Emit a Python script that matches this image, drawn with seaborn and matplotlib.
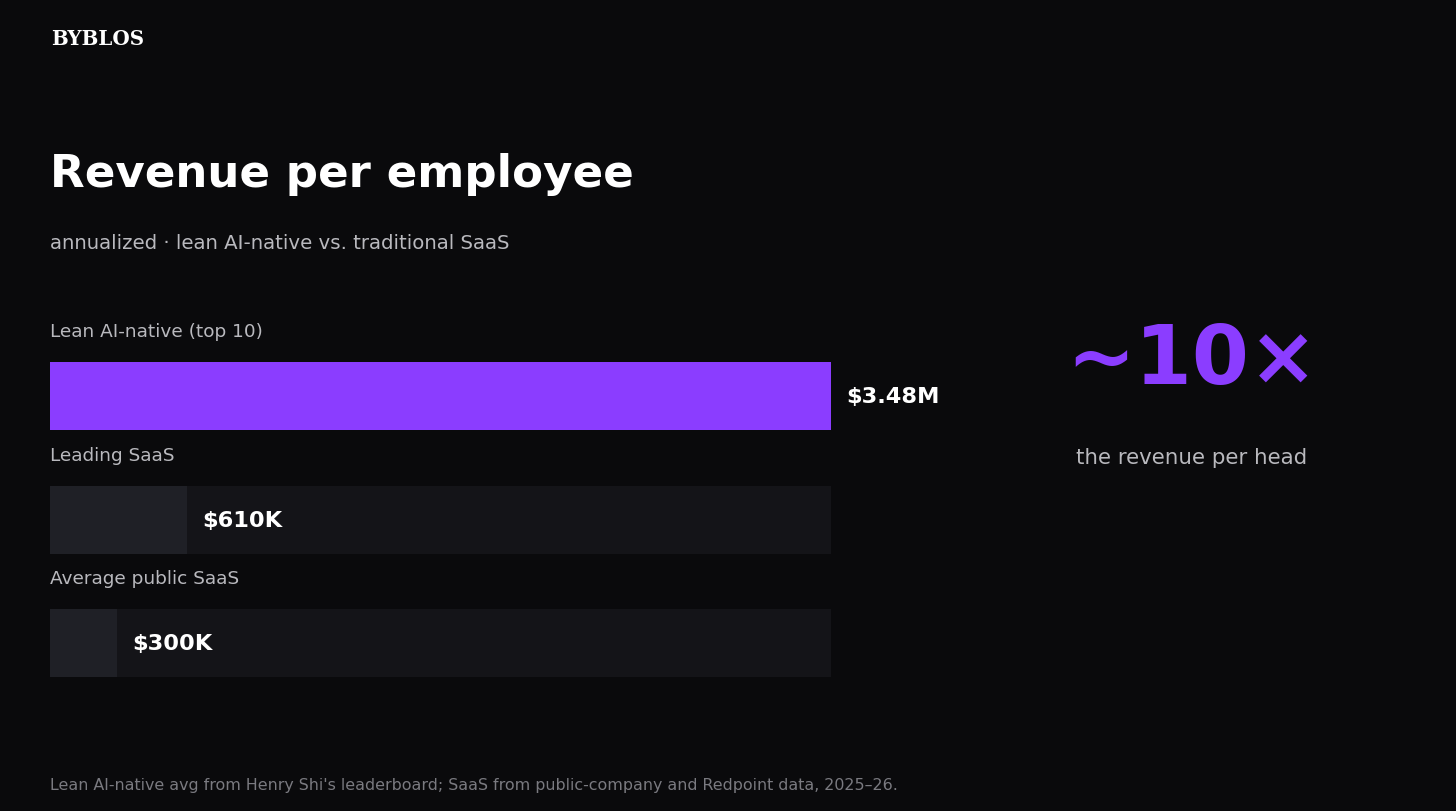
import pandas as pd
import matplotlib
matplotlib.use('Agg')
import matplotlib.pyplot as plt
import seaborn as sns

# data
categories = ['Lean AI-native (top 10)', 'Leading SaaS', 'Average public SaaS']
values_m = [3.48, 0.61, 0.30]
value_labels = ['$3.48M', '$610K', '$300K']
track_max = 3.48

BG = '#0a0a0c'
PURPLE = '#8b3dff'
TRACK = '#141418'
FILL = '#1f2026'
W, H = 1456, 812

sns.set_theme(style='dark')
plt.rcParams['font.family'] = ['DejaVu Sans']

fig = plt.figure(figsize=(W / 100, H / 100), dpi=100, facecolor=BG)

def px(x, y):
    return x / W, 1 - y / H

# axes area for the bars (pixel box)
left, right = 50, 831
top, bottom = 335.8, 705.7
ax = fig.add_axes([left / W, 1 - bottom / H, (right - left) / W, (bottom - top) / H])
ax.set_facecolor(BG)

df = pd.DataFrame({'category': categories, 'value': values_m,
                   'track': [track_max] * len(categories)})

# full-width tracks first, then the value bars over them
sns.barplot(data=df, y='category', x='track', color=TRACK, width=0.551,
            ax=ax, orient='h', saturation=1)
bar_colors = [PURPLE, FILL, FILL]
sns.barplot(data=df, y='category', x='value', hue='category', palette=bar_colors,
            width=0.551, ax=ax, orient='h', legend=False, saturation=1)
for p in ax.patches:
    p.set_linewidth(0)

ax.set_xlim(0, track_max)
ax.set_ylim(2.5, -0.5)
ax.axis('off')

for i, (cat, v, lab) in enumerate(zip(categories, values_m, value_labels)):
    ax.text(0, i - 0.527, cat, color='#b9b9be', fontsize=13.3,
            va='center', ha='left', clip_on=False)
    ax.text(v + 0.067, i, lab, color='white', fontsize=16.2, fontweight='bold',
            va='center', ha='left', clip_on=False)

# header
fig.text(*px(51, 39), 'BYBLOS', family=['DejaVu Serif'], fontweight='bold',
         fontsize=14.3, color='white', va='center', ha='left')
fig.text(*px(50, 174), 'Revenue per employee', fontsize=32.5, fontweight='bold',
         color='white', va='center', ha='left')
fig.text(*px(50, 244), 'annualized · lean AI-native vs. traditional SaaS',
         fontsize=14.2, color='#b9b9be', va='center', ha='left')

# callout
fig.text(*px(1192, 362), '~10×', fontsize=59, fontweight='bold', color=PURPLE,
         va='center', ha='center')
fig.text(*px(1192, 458), 'the revenue per head', fontsize=15.4, color='#b9b9be',
         va='center', ha='center')

# footer
fig.text(*px(50, 786), "Lean AI-native avg from Henry Shi's leaderboard; SaaS from "
         "public-company and Redpoint data, 2025–26.",
         fontsize=11.4, color='#7a7a80', va='center', ha='left')

fig.savefig('out.png', dpi=100, facecolor=BG)
